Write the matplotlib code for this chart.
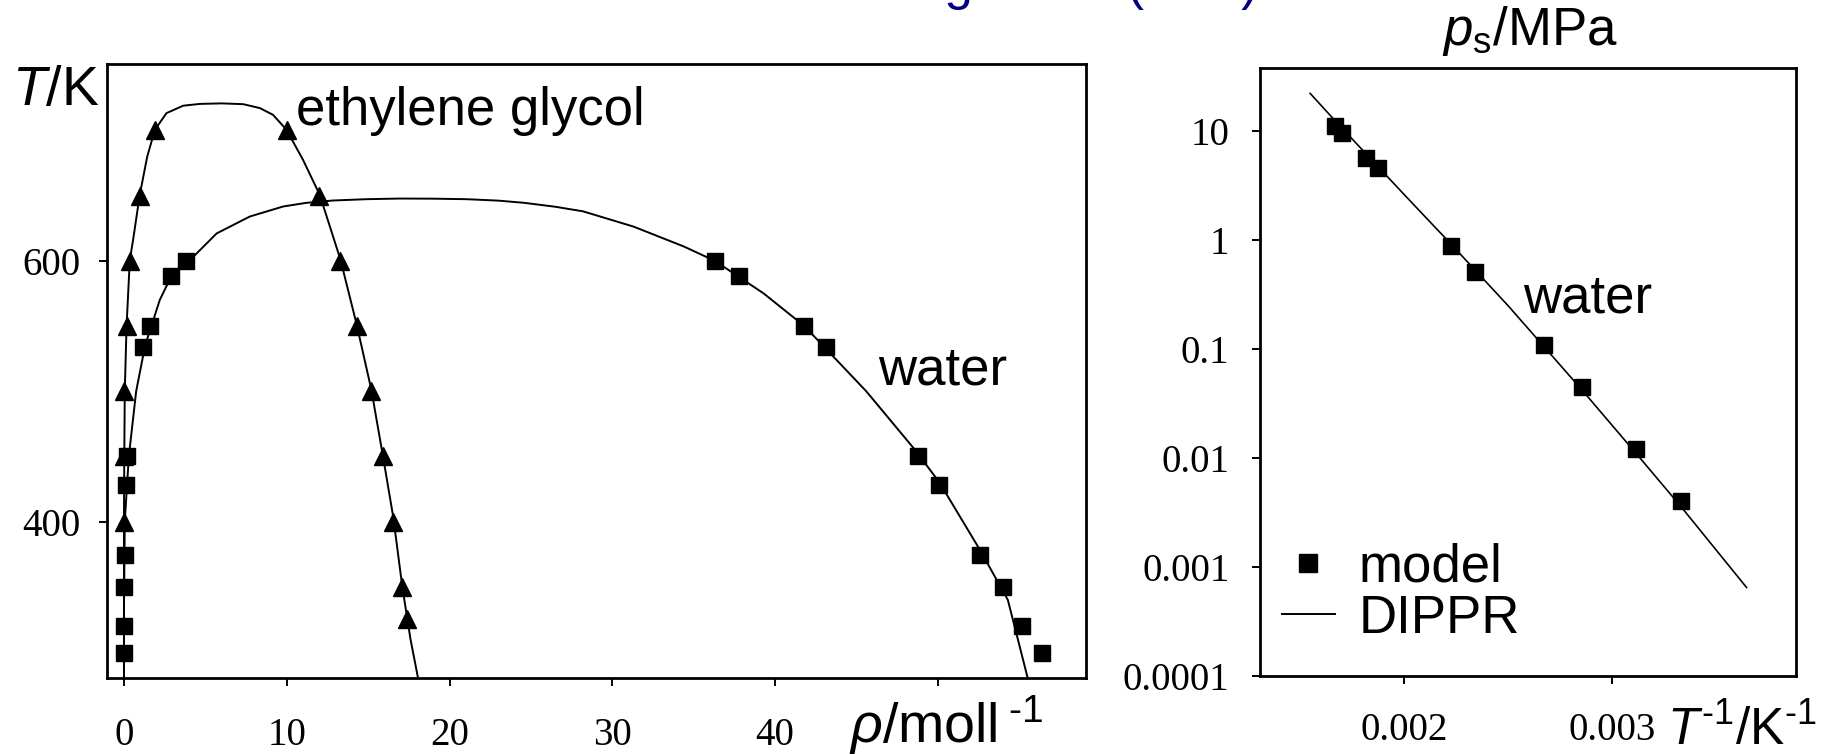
import matplotlib
matplotlib.use("Agg")
import matplotlib.pyplot as plt
from matplotlib.lines import Line2D
from matplotlib.ticker import FixedLocator, NullLocator

plt.rcParams['font.family'] = ['Liberation Sans', 'DejaVu Sans']
plt.rcParams['mathtext.fontset'] = 'custom'
plt.rcParams['mathtext.rm'] = 'Liberation Sans'
plt.rcParams['mathtext.it'] = 'Liberation Sans:italic'

# --- left panel: coexistence curves (rho in mol/l, T in K)
water_T_model = [600, 588, 550, 534, 450, 428, 374, 350, 320, 299]
water_rho_liq = [36.3, 37.8, 41.8, 43.1, 48.8, 50.1, 52.6, 54.0, 55.2, 56.4]
water_rho_vap = [3.8, 2.9, 1.6, 1.2, 0.2, 0.12, 0.05, 0.02, 0.01, 0.005]

water_rho_line = [0.0, 0.0, 0.05, 0.3, 0.75, 1.3, 2.2, 2.9, 3.8, 4.25, 5.69, 7.73, 9.78,
                  11.2, 12.85, 14.9, 16.95, 19.0, 21.05, 23.0, 24.6, 26.5, 28.2, 31.3, 34.4,
                  36.3, 39.3, 41.8, 45.6, 48.6, 50.1, 52.6, 54.3, 55.5]
water_T_line = [281, 330, 400, 450, 500, 535, 570, 588, 600, 603, 621, 634, 641.7,
                644.5, 646.3, 647.3, 647.8, 647.7, 647.3, 646.2, 644.5, 641.5, 638, 626.3, 611,
                600, 575, 550, 500, 455, 430, 378, 340, 281]

eg_T_model = [700, 650, 600, 550, 500, 450, 400, 350, 325]
eg_rho_liq = [10.0, 12.0, 13.3, 14.3, 15.2, 15.9, 16.55, 17.1, 17.4]
eg_T_vap = [700, 650, 600, 550, 500, 450, 400]
eg_rho_vap = [1.9, 1.0, 0.38, 0.16, 0.02, 0.0, 0.0]

eg_rho_line = [0.0, 0.0, 0.02, 0.05, 0.16, 0.36, 0.56, 0.97, 1.43, 1.9, 2.61, 3.63, 4.66,
               6.0, 7.32, 8.35, 9.16, 9.99, 11.0, 12.03, 13.3, 14.3, 15.2, 15.9, 16.55, 17.1,
               17.6, 18.05]
eg_T_line = [281, 400, 450, 500, 550, 600.8, 616, 650.6, 680, 700.5, 713.3, 719, 720.4,
             720.8, 720.2, 717.2, 712, 700.5, 677.5, 650.6, 601, 551, 501, 451, 403, 350,
             310, 281]

# --- right panel: vapour pressure of water
inv_T_model = [0.001668, 0.001701, 0.001816, 0.001872, 0.002225, 0.002343, 0.002674,
               0.002858, 0.003119, 0.003333]
ps_model = [11.1, 9.6, 5.7, 4.55, 0.88, 0.51, 0.109, 0.045, 0.0121, 0.00405]

inv_T_dippr = [0.001546, 0.001668, 0.001818, 0.002, 0.002222, 0.0025, 0.002857, 0.003125,
               0.003333, 0.00365]
ps_dippr = [22.1, 12.3, 6.1, 2.6, 0.93, 0.25, 0.042, 0.0106, 0.0036, 0.00065]

left_xticks = [0, 10, 20, 30, 40, 50]
left_xticklabels = ['0', '10', '20', '30', '40', '']
left_yticks = [400, 600]
right_xticks = [0.002, 0.003]
right_xticklabels = ['0.002', '0.003']
right_yticks = [0.0001, 0.001, 0.01, 0.1, 1, 10]
right_yticklabels = ['0.0001', '0.001', '0.01', '0.1', '1', '10']

fig = plt.figure(figsize=(18.29, 7.54), dpi=100)
ax1 = fig.add_axes([0.05834, 0.1008, 0.5354, 0.8143])
ax2 = fig.add_axes([0.6889, 0.1034, 0.2931, 0.8064])

lw = 1.4
ax1.plot(water_rho_line, water_T_line, color='k', lw=lw)
ax1.plot(eg_rho_line, eg_T_line, color='k', lw=lw)
ax1.plot(water_rho_liq, water_T_model, 's', color='k', ms=11.5)
ax1.plot(water_rho_vap, water_T_model, 's', color='k', ms=11.5)
ax1.plot(eg_rho_liq, eg_T_model, '^', color='k', ms=12.5)
ax1.plot(eg_rho_vap, eg_T_vap, '^', color='k', ms=12.5)

ax1.set_xlim(-1.06, 59.1)
ax1.set_ylim(280, 751)
ax1.xaxis.set_major_locator(FixedLocator(left_xticks))
ax1.set_xticklabels(left_xticklabels)
ax1.yaxis.set_major_locator(FixedLocator(left_yticks))
ax1.tick_params(axis='x', direction='out', length=6, width=1.4, labelsize=28, pad=22)
ax1.tick_params(axis='y', direction='out', length=6, width=1.4, labelsize=28, pad=13)

ax1.text(10.6, 704, 'ethylene glycol', fontsize=38, va='baseline', ha='left')
ax1.text(46.3, 505, 'water', fontsize=38, va='baseline', ha='left')

ax2.plot(inv_T_dippr, ps_dippr, color='k', lw=lw * 0.85, label='DIPPR')
ax2.plot(inv_T_model, ps_model, 's', color='k', ms=11.5, label='model')
ax2.set_yscale('log')
ax2.set_xlim(0.001304, 0.003889)
ax2.set_ylim(1e-4, 37.8)
ax2.xaxis.set_major_locator(FixedLocator(right_xticks))
ax2.set_xticklabels(right_xticklabels)
ax2.yaxis.set_major_locator(FixedLocator(right_yticks))
ax2.yaxis.set_minor_locator(NullLocator())
ax2.set_yticklabels(right_yticklabels)
ax2.tick_params(axis='x', direction='out', length=6, width=1.4, labelsize=28, pad=20)
ax2.tick_params(axis='y', direction='out', length=6, width=1.4, labelsize=28, pad=16)
ax2.text(0.002572, 0.218, 'water', fontsize=38, va='baseline', ha='left')

handles = [Line2D([], [], ls='none', marker='s', color='k', ms=12.5),
           Line2D([], [], color='k', lw=lw)]
ax2.legend(handles, ['model', 'DIPPR'], loc='upper left', bbox_to_anchor=(0.041, 0.219),
           frameon=False, fontsize=38, handlelength=1.0, handletextpad=0.45,
           labelspacing=0.02, borderpad=0, borderaxespad=0)

for ax in (ax1, ax2):
    for s in ax.spines.values():
        s.set_linewidth(2.0)
        s.set_color('k')
    for lbl in ax.get_xticklabels() + ax.get_yticklabels():
        lbl.set_fontfamily('Liberation Serif')

fig.text(0.0066, 0.8607, '$T$/K', fontsize=40, va='baseline', ha='left')
fig.text(0.4642, 0.0146, '$\\rho$/moll$^{\\;\\mathrm{\u20101}}$', fontsize=40,
         va='baseline', ha='left')
fig.text(0.9114, 0.0119, '$T^{\\mathrm{\u20101}}$/K$^{\\mathrm{\u20101}}$', fontsize=37,
         va='baseline', ha='left')
fig.text(0.7883, 0.9403, r'$p_{\mathrm{s}}$/MPa', fontsize=38, va='baseline', ha='left')

# title line above the frame, only its lower edge shows
fig.text(753 / 1829, 1.0013, 'Modelling water (EoS)', fontsize=37, color='navy',
         va='baseline', ha='left')

fig.savefig('out.png', dpi=100)
